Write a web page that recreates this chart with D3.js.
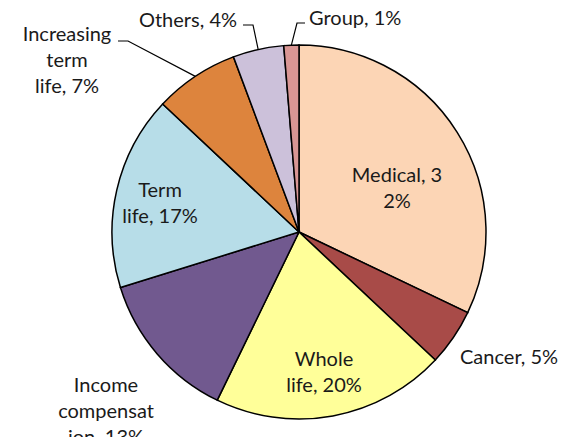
<!DOCTYPE html>
<meta charset="utf-8">
<style>
body { margin: 0; background: #fff; }
.slice { stroke: #000; stroke-width: 1.5px; }
.leader { fill: none; stroke: #000; stroke-width: 1.2px; }
text { font-family: Lato, "Open Sans", sans-serif; font-size: 20px; fill: #1a1a1a; }
</style>
<svg width="564" height="437"></svg>
<script src="https://cdn.jsdelivr.net/npm/d3@7"></script>
<script>

var categories = ["Medical", "Cancer", "Whole life", "Income compensation", "Term life", "Increasing term life", "Others", "Group"];
var shares = [32.1, 4.9, 20.2, 13.0, 16.8, 7.3, 4.4, 1.3];
var colors = ["#fcd5b5", "#a84b48", "#ffff99", "#71598f", "#b7dde8", "#dd843d", "#ccc1da", "#d99694"];
// label text lines, wrapped the way the original wraps them
var labelLines = [
  ["Medical, 3", "2%"],
  ["Cancer, 5%"],
  ["Whole", "life, 20%"],
  ["Income", "compensat", "ion, 13%"],
  ["Term", "life, 17%"],
  ["Increasing", "term", "life, 7%"],
  ["Others, 4%"],
  ["Group, 1%"]
];

var svg = d3.select("svg"),
    cx = 299, cy = 232, radius = 187, lineH = 26;

// label anchor offsets from pie centre (first baseline), and text-anchor
var labelLayout = [
  {dx: 98, dy: -50, anchor: "middle"},
  {dx: 161, dy: 132, anchor: "start"},
  {dx: 25, dy: 134, anchor: "middle"},
  {dx: -193, dy: 160, anchor: "middle"},
  {dx: -139, dy: -35, anchor: "middle"},
  {dx: -232, dy: -191, anchor: "middle"},
  {dx: -111, dy: -205, anchor: "middle"},
  {dx: 10, dy: -207, anchor: "start"}
];
// leader lines: elbow points (relative to centre) for outside labels
var leaders = {5: [-171, -191], 6: [-46, -207], 7: [-2, -209]};
var leaderStart = {5: [-181, -191], 6: [-56, -207], 7: [6, -209]};

var pie = d3.pie().sort(null).value(function(d) { return d; });
var arc = d3.arc().innerRadius(0).outerRadius(radius);
var arcs = pie(shares);

var g = svg.append("g").attr("transform", "translate(" + cx + "," + cy + ")");

g.selectAll(".slice")
  .data(arcs)
  .enter().append("path")
    .attr("class", "slice")
    .attr("d", arc)
    .style("fill", function(d, i) { return colors[i]; });

Object.keys(leaders).forEach(function(k) {
  var a = arcs[k], mid = (a.startAngle + a.endAngle) / 2;
  var p = [radius * Math.sin(mid), -radius * Math.cos(mid)];
  g.append("polyline")
    .attr("class", "leader")
    .attr("points", [leaderStart[k], leaders[k], p].map(function(q) { return q.join(","); }).join(" "));
});

var labels = g.selectAll(".label")
  .data(labelLines)
  .enter().append("text")
    .attr("class", "label")
    .attr("text-anchor", function(d, i) { return labelLayout[i].anchor; })
    .attr("transform", function(d, i) { return "translate(" + labelLayout[i].dx + "," + labelLayout[i].dy + ")"; });

labels.selectAll("tspan")
  .data(function(d) { return d; })
  .enter().append("tspan")
    .attr("x", 0)
    .attr("y", function(d, j) { return j * lineH; })
    .text(function(d) { return d; });

</script>
